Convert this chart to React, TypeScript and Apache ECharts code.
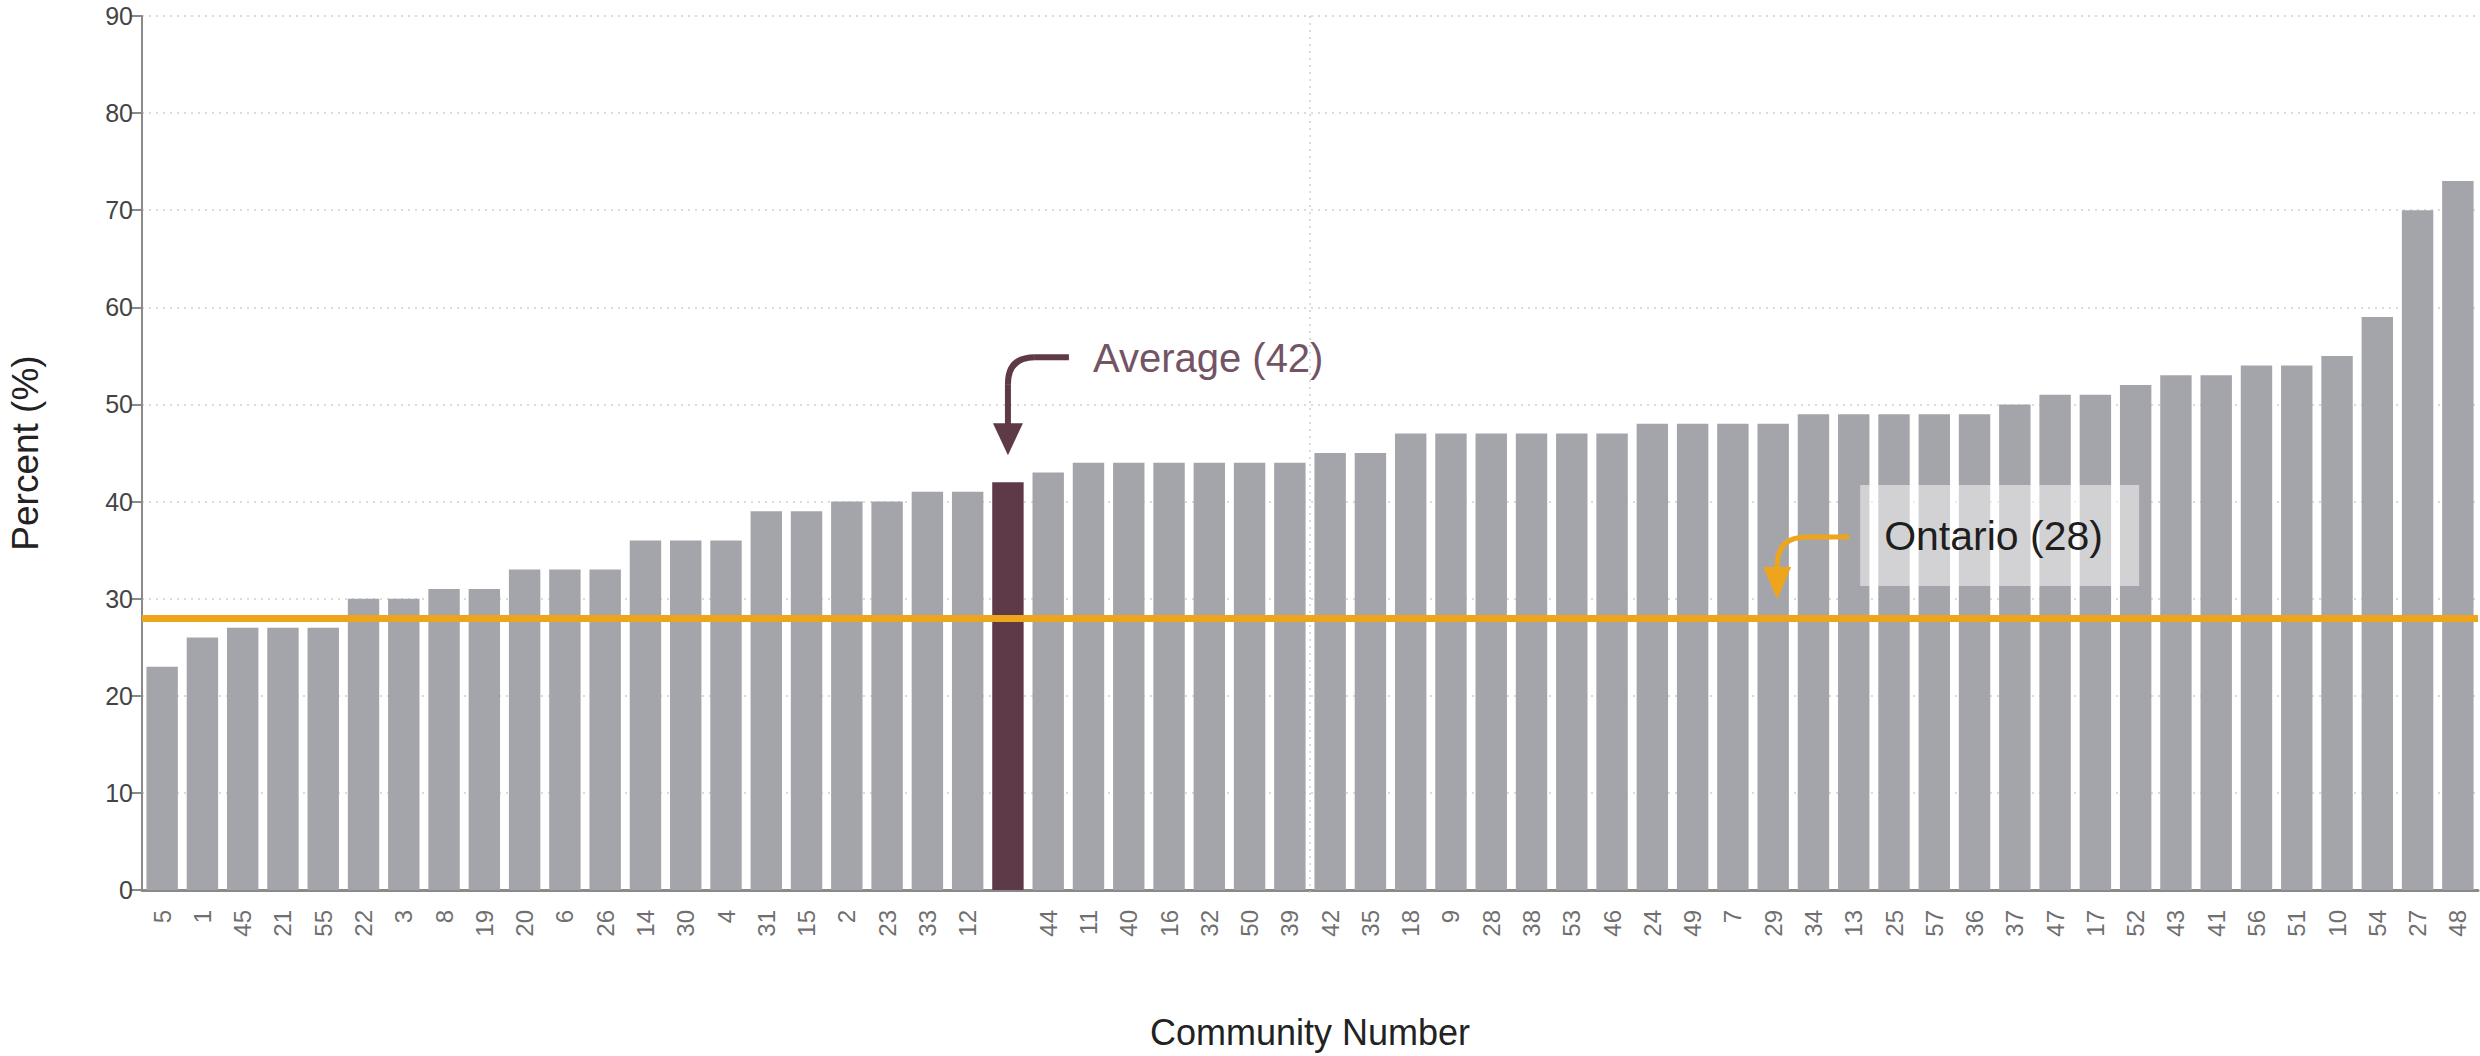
import React, { useEffect, useRef } from "react";
import * as echarts from "echarts";

const categories: string[] = [
  "5", "1", "45", "21", "55", "22", "3", "8", "19", "20", "6", "26", "14", "30", "4",
  "31", "15", "2", "23", "33", "12", "", "44", "11", "40", "16", "32", "50", "39", "42",
  "35", "18", "9", "28", "38", "53", "46", "24", "49", "7", "29", "34", "13", "25", "57",
  "36", "37", "47", "17", "52", "43", "41", "56", "51", "10", "54", "27", "48",
];
const values: number[] = [
  23, 26, 27, 27, 27, 30, 30, 31, 31, 33, 33, 33, 36, 36, 36,
  39, 39, 40, 40, 41, 41, 42, 43, 44, 44, 44, 44, 44, 44, 45,
  45, 47, 47, 47, 47, 47, 47, 48, 48, 48, 48, 49, 49, 49, 49,
  49, 50, 51, 51, 52, 53, 53, 54, 54, 55, 59, 70, 73,
];
const averageIndex = 21;
const averageLabel = "Average (42)";
const ontarioValue = 28;
const ontarioLabel = "Ontario (28)";
const ontarioArrowIndex = 40;
const centerDividerIndex = 29;
const yTicks = { min: 0, max: 90, interval: 10 };

const FONT = "'Liberation Sans', Arial, Helvetica, sans-serif";
const BAR_GRAY = "#a4a5aa";
const AVG_COLOR = "#5e3a49";
const AVG_TEXT = "#735465";
const ORANGE = "#eea51c";
const GRID = "#cfcfcf";

export default function App() {
  const ref = useRef<HTMLDivElement>(null);
  useEffect(() => {
    if (!ref.current) return;
    const chart = echarts.init(ref.current, null, { renderer: "svg" });
    const option: any = {
      animation: false,
      backgroundColor: "#ffffff",
      textStyle: { fontFamily: FONT },
      grid: { left: 142, right: 2, top: 16, bottom: 166, containLabel: false, outerBoundsMode: "none" },
      xAxis: {
        type: "category",
        data: categories,
        name: "Community Number",
        nameLocation: "middle",
        nameGap: 124,
        nameTextStyle: { fontSize: 36, color: "#222", fontFamily: FONT },
        axisLine: { lineStyle: { color: "#8a8a8a", width: 3 } },
        axisTick: { show: false },
        axisLabel: { rotate: 90, interval: 0, fontSize: 24, color: "#6f6f6f", margin: 20, fontFamily: FONT },
        splitLine: { show: false },
      },
      yAxis: {
        type: "value",
        min: yTicks.min,
        max: yTicks.max,
        interval: yTicks.interval,
        name: "Percent (%)",
        nameLocation: "middle",
        nameGap: 98,
        nameTextStyle: { fontSize: 37, color: "#222", fontFamily: FONT },
        axisLine: { show: true, lineStyle: { color: "#8a8a8a", width: 2 } },
        axisTick: { show: true, length: 12, lineStyle: { color: "#8a8a8a", width: 2 } },
        axisLabel: { fontSize: 25, color: "#444", margin: 9, fontFamily: FONT },
        splitLine: { show: true, lineStyle: { color: GRID, width: 1.5, type: [2, 5] } },
      },
      series: [
        {
          type: "bar",
          barCategoryGap: "22%",
          data: values.map((v, i) =>
            i === averageIndex ? { value: v, itemStyle: { color: AVG_COLOR } } : { value: v }
          ),
          itemStyle: { color: BAR_GRAY },
          silent: true,
          markLine: {
            silent: true,
            symbol: ["none", "none"],
            label: { show: false },
            lineStyle: { color: ORANGE, width: 7, type: "solid" },
            data: [{ yAxis: ontarioValue }],
          },
        },
      ],
    };
    chart.setOption(option);

    const px = (i: number, v: number) =>
      chart.convertToPixel({ xAxisIndex: 0, yAxisIndex: 0 }, [i, v]) as number[];
    const [ax, ay] = px(averageIndex, values[averageIndex]);
    const [ox0, oy] = px(ontarioArrowIndex, ontarioValue);
    const [c1x, topY] = px(centerDividerIndex - 1, yTicks.max);
    const [c2x, baseY] = px(centerDividerIndex, yTicks.min);
    const divX = (c1x + c2x) / 2;
    const ox = ox0 + 4;
    const lw = 6;
    const graphic: any[] = [
      // center vertical dotted divider
      { type: "line", z: 1, silent: true, shape: { x1: divX, y1: topY, x2: divX, y2: baseY + 8 }, style: { stroke: GRID, lineWidth: 1.5, lineDash: [2, 5] } },
      // Average annotation
      { type: "line", z: 100, shape: { x1: ax + 61, y1: ay - 125, x2: ax + 27, y2: ay - 125 }, style: { stroke: AVG_COLOR, lineWidth: lw } },
      { type: "bezierCurve", z: 100, shape: { x1: ax + 27, y1: ay - 125, x2: ax, y2: ay - 98, cpx1: ax, cpy1: ay - 125 }, style: { stroke: AVG_COLOR, lineWidth: lw, fill: null } },
      { type: "line", z: 100, shape: { x1: ax, y1: ay - 98, x2: ax, y2: ay - 56 }, style: { stroke: AVG_COLOR, lineWidth: lw } },
      { type: "polygon", z: 100, shape: { points: [[ax - 15, ay - 59], [ax + 15, ay - 59], [ax, ay - 27]] }, style: { fill: AVG_COLOR } },
      { type: "text", z: 100, x: ax + 85, y: ay - 124, style: { text: averageLabel, fontSize: 40, fill: AVG_TEXT, fontFamily: FONT, verticalAlign: "middle", align: "left" } },
      // Ontario annotation
      { type: "rect", z: 100, shape: { x: ox + 83, y: oy - 133, width: 279, height: 101 }, style: { fill: "rgba(255,255,255,0.5)" } },
      { type: "text", z: 101, x: ox + 107, y: oy - 82, style: { text: ontarioLabel, fontSize: 41, fill: "#1e1e1e", fontFamily: FONT, verticalAlign: "middle", align: "left" } },
      { type: "line", z: 100, shape: { x1: ox + 72, y1: oy - 81, x2: ox + 30, y2: oy - 81 }, style: { stroke: ORANGE, lineWidth: 5 } },
      { type: "bezierCurve", z: 100, shape: { x1: ox + 30, y1: oy - 81, x2: ox, y2: oy - 53, cpx1: ox, cpy1: oy - 81 }, style: { stroke: ORANGE, lineWidth: 5, fill: null } },
      { type: "line", z: 100, shape: { x1: ox, y1: oy - 53, x2: ox, y2: oy - 48 }, style: { stroke: ORANGE, lineWidth: 5 } },
      { type: "polygon", z: 100, shape: { points: [[ox - 14, oy - 51], [ox + 14, oy - 51], [ox, oy - 19]] }, style: { fill: ORANGE } },
    ];
    chart.setOption({ graphic });

    return () => chart.dispose();
  }, []);

  return (
    <div
      ref={ref}
      style={{ position: "fixed", left: 0, top: 0, width: 2480, height: 1056, background: "#fff" }}
    />
  );
}
